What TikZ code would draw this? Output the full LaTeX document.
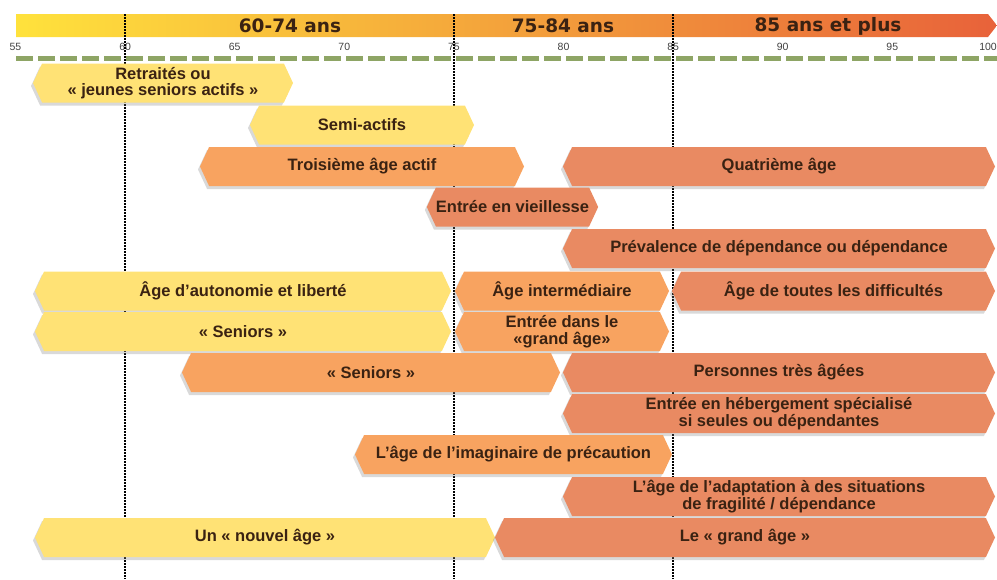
\documentclass[tikz,border=0pt]{standalone}
\usepackage{fontspec}
\setmainfont{Liberation Sans}
\newfontfamily\hdfont{DejaVu Sans}
\usetikzlibrary{shapes.symbols,shadows}
\definecolor{barYel}{HTML}{FFE275}
\definecolor{barOra}{HTML}{F8A360}
\definecolor{barSal}{HTML}{E98A62}
\definecolor{hdYel}{HTML}{FFE23C}
\definecolor{hdOra}{HTML}{F5952F}
\definecolor{hdRed}{HTML}{E8623A}
\definecolor{axGreen}{HTML}{8EA565}
\definecolor{txBrown}{HTML}{3A2212}
\tikzset{
  agebar/.style={signal, signal to=west and east, signal pointer angle=130,
    inner sep=0pt, minimum height=39, align=center, text=txBrown,
    font=\bfseries\fontsize{16.5}{16.5}\selectfont,
    drop shadow={shadow xshift=-2pt, shadow yshift=-3pt, opacity=0.3, fill=gray}},
  yel/.style={agebar, fill=barYel},
  ora/.style={agebar, fill=barOra},
  sal/.style={agebar, fill=barSal},
  ticklab/.style={inner sep=0pt, font=\fontsize{10.5}{11}\selectfont, text=black!75},
  hdlab/.style={inner sep=0pt, font=\hdfont\bfseries\fontsize{18.5}{20}\selectfont, text=txBrown}
}
\begin{document}
\begin{tikzpicture}[x=1pt, y=-1pt]
    \useasboundingbox (0,0) rectangle (997,579);
    % header
    \shade[left color=hdYel, middle color=hdOra, right color=hdRed]
      (16,14) -- (988,14) -- (997,25.5) -- (988,37) -- (16,37) -- cycle;
    \node[hdlab] (h6074) at (290,26) {60-74 ans};
    \node[hdlab] (h7584) at (563,26) {75-84 ans};
    \node[hdlab] (h85) at (828,26) {85 ans et plus};
    \foreach \a in {55,60,...,95}
      \node[ticklab] (t\a) at ({15.5+(\a-55)*21.92},47) {\a};
    \node[ticklab, anchor=east] (t100) at (997,47) {100};
    \draw[axGreen, line width=5pt, dash pattern=on 17pt off 5pt] (16,58) -- (997,58);
    \foreach \a in {60,75,85}
      \draw[black, line width=1.8pt, dash pattern=on 1.6pt off 1.4pt]
        ({15.5+(\a-55)*21.92},14) -- ({15.5+(\a-55)*21.92},579);
    % bars
    \node[yel, minimum width=260] (retr) at (163,83) {Retraités ou\\« jeunes seniors actifs »};
    \node[yel, minimum width=224] (semi) at (362,125) {Semi-actifs};
    \node[ora, minimum width=324] (age3) at (362,166.5) {Troisième âge actif};
    \node[sal, minimum width=432] (age4) at (779,166.5) {Quatrième âge};
    \node[sal, minimum width=165] (viei) at (512.5,207) {Entrée en vieillesse};
    \node[sal, minimum width=432] (prev) at (779,248.5) {Prévalence de dépendance ou dépendance};
    \node[yel, minimum width=416] (auto) at (243,291) {Âge d’autonomie et liberté};
    \node[ora, minimum width=214] (inte) at (562,291) {Âge intermédiaire};
    \node[sal, minimum width=323] (diff) at (833.5,291) {Âge de toutes les difficultés};
    \node[yel, minimum width=416] (sen1) at (243,331.5) {« Seniors »};
    \node[ora, minimum width=214] (gra1) at (562,331.5) {Entrée dans le\\«grand âge»};
    \node[ora, minimum width=378] (sen2) at (371,372.5) {« Seniors »};
    \node[sal, minimum width=432] (tres) at (779,372.5) {Personnes très âgées};
    \node[sal, minimum width=432] (hebe) at (779,413.5) {Entrée en hébergement spécialisé\\si seules ou dépendantes};
    \node[ora, minimum width=317] (imag) at (513.5,454.5) {L’âge de l’imaginaire de précaution};
    \node[sal, minimum width=432] (adap) at (779,496.5) {L’âge de l’adaptation à des situations\\de fragilité / dépendance};
    \node[yel, minimum width=460] (nouv) at (265,537.5) {Un « nouvel âge »};
    \node[sal, minimum width=500] (gra2) at (745,537.5) {Le « grand âge »};
\end{tikzpicture}
\end{document}
